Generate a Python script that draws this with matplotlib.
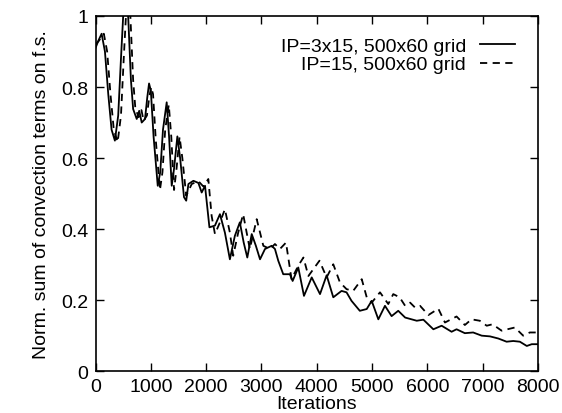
import matplotlib
matplotlib.use("Agg")
import matplotlib.pyplot as plt

plt.rcParams['font.family'] = ['Liberation Sans', 'DejaVu Sans']

# Solid series: IP=3x15, 500x60 grid
it_a = [0, 50, 110, 170, 230, 290, 350, 410, 460, 500, 545, 590, 640, 680, 745, 790, 835, 895,
        935, 968, 1000, 1050, 1125, 1170, 1220, 1287, 1330, 1378, 1420, 1480, 1530, 1600, 1640,
        1680, 1770, 1860, 1920, 1980, 2060, 2160, 2250, 2340, 2430, 2520, 2610, 2680, 2745, 2825,
        2900, 2975, 3065, 3185, 3245, 3305, 3395, 3515, 3565, 3667, 3770, 3910, 4060, 4180, 4300,
        4450, 4540, 4630, 4780, 4905, 4995, 5115, 5235, 5355, 5475, 5600, 5810, 5930, 6110, 6260,
        6440, 6530, 6680, 6830, 6985, 7135, 7285, 7435, 7555, 7675, 7800, 7890, 8000]
val_a = [0.91, 0.93, 0.95, 0.90, 0.78, 0.68, 0.649, 0.72, 0.88, 1.0, 1.08, 1.0, 0.82, 0.738, 0.71,
         0.733, 0.70, 0.71, 0.77, 0.81, 0.79, 0.66, 0.522, 0.56, 0.68, 0.757, 0.66, 0.522, 0.57,
         0.661, 0.60, 0.49, 0.48, 0.527, 0.536, 0.53, 0.503, 0.522, 0.405, 0.41, 0.442, 0.39,
         0.315, 0.381, 0.419, 0.362, 0.32, 0.386, 0.353, 0.315, 0.344, 0.353, 0.344, 0.311, 0.273,
         0.273, 0.254, 0.292, 0.212, 0.264, 0.217, 0.27, 0.208, 0.226, 0.222, 0.198, 0.17, 0.175,
         0.198, 0.146, 0.184, 0.155, 0.17, 0.151, 0.142, 0.145, 0.118, 0.128, 0.111, 0.118, 0.107,
         0.109, 0.1, 0.098, 0.092, 0.083, 0.085, 0.083, 0.071, 0.076, 0.076]

# Dashed series: IP=15, 500x60 grid
it_b = [0, 60, 150, 210, 270, 330, 400, 460, 510, 550, 590, 630, 680, 720, 780, 830, 870, 930,
        970, 1005, 1040, 1090, 1165, 1210, 1260, 1325, 1370, 1420, 1465, 1520, 1570, 1640, 1740,
        1860, 1950, 2040, 2100, 2160, 2250, 2340, 2430, 2490, 2580, 2670, 2790, 2915, 3035, 3155,
        3245, 3335, 3445, 3545, 3667, 3760, 3850, 4050, 4180, 4300, 4420, 4540, 4660, 4815, 4905,
        4995, 5145, 5295, 5385, 5500, 5600, 5690, 5780, 5870, 6020, 6200, 6320, 6530, 6680, 6800,
        6950, 7075, 7180, 7345, 7450, 7585, 7735, 7855, 8000]
val_b = [0.92, 0.93, 0.95, 0.90, 0.78, 0.68, 0.645, 0.72, 0.88, 1.0, 1.08, 1.0, 0.82, 0.74, 0.715,
         0.735, 0.705, 0.72, 0.77, 0.80, 0.78, 0.65, 0.51, 0.56, 0.68, 0.75, 0.66, 0.51, 0.57,
         0.66, 0.60, 0.494, 0.527, 0.535, 0.52, 0.541, 0.437, 0.386, 0.419, 0.456, 0.39, 0.325,
         0.39, 0.442, 0.344, 0.428, 0.353, 0.344, 0.358, 0.344, 0.362, 0.259, 0.297, 0.32, 0.268,
         0.311, 0.264, 0.301, 0.25, 0.231, 0.226, 0.259, 0.208, 0.193, 0.222, 0.189, 0.217, 0.208,
         0.184, 0.193, 0.179, 0.184, 0.158, 0.176, 0.137, 0.154, 0.13, 0.146, 0.142, 0.128, 0.132,
         0.114, 0.118, 0.123, 0.1, 0.109, 0.109]

label_a = "IP=3x15, 500x60 grid"
label_b = "IP=15, 500x60 grid"
xticks = [0, 1000, 2000, 3000, 4000, 5000, 6000, 7000, 8000]
yticks = [0, 0.2, 0.4, 0.6, 0.8, 1]
ytick_labels = ["0", "0.2", "0.4", "0.6", "0.8", "1"]

fig = plt.figure(figsize=(5.62, 4.14), dpi=100)
ax = fig.add_axes([0.170, 0.101, 0.787, 0.858])

ax.plot(it_a, val_a, color='black', lw=1.3, ls='-', label=label_a)
ax.plot(it_b, val_b, color='black', lw=1.3, ls=(0, (4, 3)), label=label_b)

ax.set_xlim(0, 8000)
ax.set_ylim(0, 1)
ax.set_xticks(xticks)
ax.set_xticklabels([str(t) for t in xticks])
ax.set_yticks(yticks)
ax.set_yticklabels(ytick_labels)
ax.tick_params(direction='in', length=6, width=1, top=True, right=True, labelsize=14, pad=5)
for s in ax.spines.values():
    s.set_linewidth(1.2)

ax.set_xlabel("Iterations", fontsize=14, labelpad=0)
ax.set_ylabel("Norm. sum of convection terms on f.s.", fontsize=14, labelpad=8)

leg = ax.legend(loc='upper right', bbox_to_anchor=(0.948, 0.94), frameon=False,
                markerfirst=False, fontsize=14, handlelength=1.8, handletextpad=0.7,
                labelspacing=0.05, borderaxespad=0, borderpad=0)

fig.savefig("out.png", dpi=100)
